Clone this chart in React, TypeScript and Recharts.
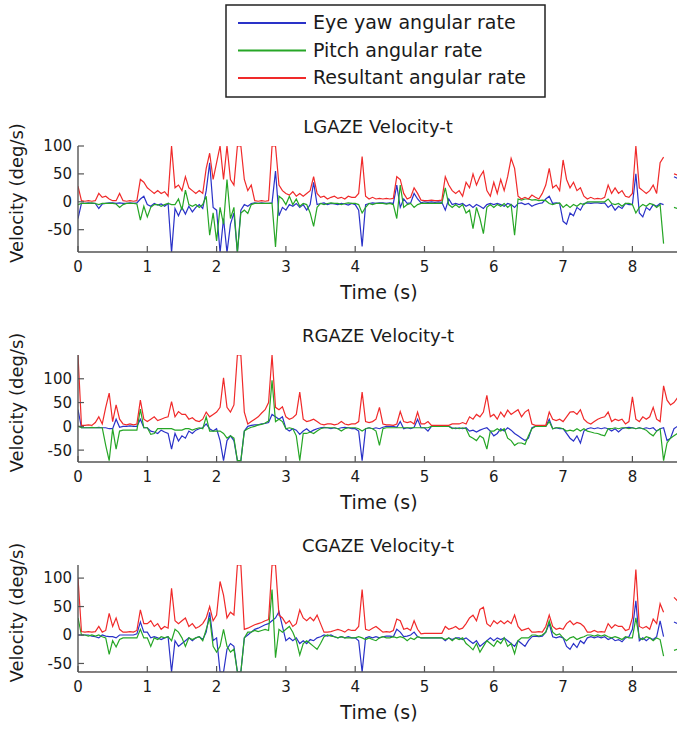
import { LineChart, Line, XAxis, YAxis } from 'recharts'

// sample times (s), 20 Hz
const TIME = [
  0, 0.05, 0.1, 0.15, 0.2, 0.25, 0.3, 0.35, 0.4, 0.45,
  0.5, 0.55, 0.6, 0.65, 0.7, 0.75, 0.8, 0.85, 0.9, 0.95,
  1, 1.05, 1.1, 1.15, 1.2, 1.25, 1.3, 1.35, 1.4, 1.45,
  1.5, 1.55, 1.6, 1.65, 1.7, 1.75, 1.8, 1.85, 1.9, 1.95,
  2, 2.05, 2.1, 2.15, 2.2, 2.25, 2.3, 2.35, 2.4, 2.45,
  2.5, 2.55, 2.6, 2.65, 2.7, 2.75, 2.8, 2.85, 2.9, 2.95,
  3, 3.05, 3.1, 3.15, 3.2, 3.25, 3.3, 3.35, 3.4, 3.45,
  3.5, 3.55, 3.6, 3.65, 3.7, 3.75, 3.8, 3.85, 3.9, 3.95,
  4, 4.05, 4.1, 4.15, 4.2, 4.25, 4.3, 4.35, 4.4, 4.45,
  4.5, 4.55, 4.6, 4.65, 4.7, 4.75, 4.8, 4.85, 4.9, 4.95,
  5, 5.05, 5.1, 5.15, 5.2, 5.25, 5.3, 5.35, 5.4, 5.45,
  5.5, 5.55, 5.6, 5.65, 5.7, 5.75, 5.8, 5.85, 5.9, 5.95,
  6, 6.05, 6.1, 6.15, 6.2, 6.25, 6.3, 6.35, 6.4, 6.45,
  6.5, 6.55, 6.6, 6.65, 6.7, 6.75, 6.8, 6.85, 6.9, 6.95,
  7, 7.05, 7.1, 7.15, 7.2, 7.25, 7.3, 7.35, 7.4, 7.45,
  7.5, 7.55, 7.6, 7.65, 7.7, 7.75, 7.8, 7.85, 7.9, 7.95,
  8, 8.05, 8.1, 8.15, 8.2, 8.25, 8.3, 8.35, 8.4, 8.45,
  8.5, 8.55, 8.6, 8.65,
]

// LGAZE (deg/s)
const L_YAW = [
  -30, -3, -3, -2, -3, -3, -12, -4, -3, -2,
  -2, -3, -2, -3, -3, -2, -3, -2, 5, 10,
  -5, -8, -3, -6, -4, -8, -3, -91, -12, -25,
  -10, -22, -8, -18, -10, -5, -12, 20, 70, -10,
  -15, -91, -30, -91, -40, -20, -91, -15, -5, -8,
  -3, -2, -3, -2, -3, -3, -2, 55, -25, -10,
  -15, -5, -8, -3, -10, -5, -15, -5, 35, -5,
  -3, -2, -5, -3, -4, -5, -3, -4, -6, -3,
  -5, -15, -80, -5, -3, -2, -3, -2, -2, -3,
  -2, -3, 30, -10, 5, -3, -2, 15, 5, -2,
  0, -1, 0, -1, 0, -1, -15, 5, -5, -3,
  -5, -3, -8, -5, -10, -5, -8, -12, -5, -3,
  -5, -3, -5, -8, -3, -5, -10, -3, -2, -5,
  -3, -8, -5, -3, -2, 5, 10, -3, -2, -3,
  -35, -40, -20, -25, -10, -15, -3, -2, -3, -2,
  -2, -3, -2, -10, -5, -15, -8, -12, -3, -5,
  -5, 50, -20, -27, -10, -15, -5, -8, -3, -5,
  null, null, 45, 42,
]
const L_PITCH = [
  -5, -3, -3, -3, -2, -3, -5, -3, -3, -3,
  -3, -4, -10, -5, -3, -3, -3, -4, -33, -8,
  -27, -10, -5, -5, -8, -5, -3, -5, -5, 5,
  -15, 21, -5, -8, -5, -10, -5, 10, -60, -20,
  -70, -10, -40, 40, -30, -10, -91, -20, -15, -21,
  -5, -3, -3, -3, -3, -3, -3, -81, 10, 5,
  -5, 10, -5, 5, -8, -3, -5, -20, -44, -10,
  -3, -5, -3, -2, -3, -3, -5, -3, -2, -3,
  -3, -5, -20, -10, -3, -5, -3, -3, -3, -4,
  -3, -5, -30, 30, -10, -5, -3, -10, -5, -3,
  -3, -3, -3, -3, -3, -3, 25, -5, -10, -5,
  -10, -5, -20, -15, -48, -10, -30, -57, -10, -5,
  -10, -5, -8, -3, -10, -5, -60, 5, 3, 5,
  5, 3, 4, 2, 3, 2, -3, -5, -3, -2,
  -10, -5, -10, -5, -8, -3, -5, 0, 0, 0,
  0, 0, 0, 5, -3, -5, -3, -8, -3, -3,
  -5, -20, -10, -5, -8, -3, -5, -10, -5, -75,
  null, null, -10, -12,
]
const L_RES = [
  28, 2, 1, 2, 1, 2, 15, 8, 10, 5,
  2, 2, 15, 2, 1, 2, 1, 2, 40, 35,
  25, 20, 15, 20, 15, 18, 10, 100, 25, 30,
  20, 45, 25, 20, 15, 20, 15, 60, 87, 40,
  70, 100, 40, 100, 40, 30, 100, 100, 40, 20,
  30, 2, 1, 2, 1, 2, 100, 100, 30, 20,
  15, 12, 18, 10, 15, 10, 15, 20, 45, 15,
  8, 10, 5, 8, 10, 6, 8, 5, 10, 8,
  8, 15, 81, 10, 5, 8, 5, 6, 5, 6,
  5, 6, 45, 40, 15, 5, 8, 25, 15, 3,
  2, 2, 3, 2, 2, 3, 45, 30, 20, 15,
  20, 10, 35, 25, 50, 30, 45, 55, 20, 10,
  35, 15, 40, 20, 45, 78, 60, 10, 5, 8,
  5, 12, 8, 5, 15, 30, 60, 25, 30, 20,
  75, 40, 25, 35, 20, 25, 10, 5, 8, 5,
  6, 5, 8, 30, 15, 25, 15, 20, 10, 8,
  15, 100, 25, 20, 15, 20, 30, 15, 70, 80,
  null, null, 50, 48,
]

// RGAZE (deg/s)
const R_YAW = [
  35, -3, -3, -3, -3, -3, -2, -3, -3, -5,
  -5, 15, -2, 0, 0, 1, 0, 0, 15, -3,
  -3, -10, -12, -15, -8, -12, -15, -48, -15, -31,
  -20, -25, -10, -15, -8, -5, -3, 5, -5, -10,
  -5, -30, -72, -30, -20, -30, -72, -72, -10, 0,
  2, 3, 3, 5, 6, 8, 25, 20, 15, 20,
  -5, -10, -5, -8, -17, -10, -5, -12, -8, -5,
  -3, -2, -3, -5, -3, -5, -3, -2, -3, -5,
  -5, -10, -72, -5, -3, -5, -3, -5, -2, 0,
  0, 0, -2, 10, -5, -3, -5, -2, 15, -3,
  -3, -10, 0, 0, 0, 0, 0, 0, -3, -5,
  -3, -5, -3, -10, -8, -12, -8, -5, -3, -10,
  -20, -15, -5, -10, -3, -8, -15, -20, -25, -30,
  -25, -3, 0, 0, 0, 0, 15, -5, -3, -5,
  -5, -15, -25, -31, -20, -35, -10, -5, -3, -5,
  -3, -5, -3, -5, -10, -5, -12, -5, -3, -2,
  -3, -5, -3, -5, -3, -5, -3, -10, -5, -3,
  -30, -25, -5, 0,
]
const R_PITCH = [
  0, -3, -3, -3, -2, -3, -3, -3, -40, -72,
  -5, -48, -10, -8, -8, -8, -8, -8, 36, -3,
  -3, -17, -15, -5, -5, -5, -5, -5, -8, -8,
  -8, -5, -5, -8, -5, -3, -5, 20, -10, -10,
  -10, -10, -15, -25, -20, -25, -72, -72, -10, -5,
  -2, 0, 3, 4, 7, 11, 97, 10, 15, 10,
  -5, -3, -5, -20, -72, -15, -15, -12, -15, -10,
  -5, -3, -3, -3, -3, -5, -10, -5, -3, -3,
  -3, -5, -10, -5, -3, -5, -10, -40, -5, -3,
  -3, -3, -3, -3, -3, -3, -3, -3, -3, -3,
  -3, -3, 0, 0, 0, 0, 0, 0, -5, -3,
  -5, -3, -5, -21, -25, -30, -20, -25, -48, -10,
  -10, -5, -10, -5, -25, -30, -40, -35, -35, -38,
  -20, -5, 0, 0, 0, 0, 10, -5, -3, -3,
  -5, -10, -8, -10, -5, -10, -5, -10, -12, -14,
  -15, -18, -20, -5, -5, -3, -5, -3, -3, -5,
  -3, -5, -3, -5, -8, -15, -20, -10, -5, -72,
  -35, -25, -20, -15,
]
const R_RES = [
  150, 2, 2, 3, 2, 8, 20, 5, 40, 70,
  10, 45, 15, 5, 3, 5, 3, 5, 55, 15,
  10, 15, 20, 12, 15, 18, 20, 52, 20, 31,
  25, 25, 15, 18, 12, 10, 15, 30, 20, 25,
  30, 40, 102, 40, 30, 45, 150, 150, 30, 5,
  10, 15, 20, 28, 35, 50, 150, 40, 35, 41,
  20, 15, 18, 25, 72, 15, 10, 12, 15, 10,
  5, 3, 5, 5, 3, 5, 10, 5, 3, 5,
  5, 10, 72, 10, 8, 10, 15, 40, 5, 3,
  3, 2, 5, 31, 10, 8, 10, 5, 30, 5,
  5, 10, 2, 2, 2, 2, 2, 2, 5, 5,
  5, 8, 5, 20, 15, 25, 20, 30, 65, 20,
  25, 15, 30, 20, 34, 25, 30, 35, 20, 30,
  35, 5, 2, 2, 2, 2, 30, 15, 12, 15,
  10, 20, 30, 31, 25, 35, 15, 8, 5, 10,
  15, 18, 20, 30, 10, 15, 12, 15, 5, 10,
  62, 15, 10, 20, 15, 20, 40, 15, 10, 85,
  55, 45, 50, 60,
]

// CGAZE (deg/s)
const C_YAW = [
  0, 0, 0, 0, -2, -3, -5, 0, -2, -3,
  -3, -5, 0, 0, 0, 0, 0, 2, 23, 5,
  5, -5, -3, -5, -8, -5, -3, -65, -10, -20,
  -15, -10, -5, -10, -5, -3, -8, 5, 40, -10,
  -5, -65, -65, -25, -15, -20, -65, -65, -5, 0,
  5, 10, 12, 15, 18, 20, 25, 30, 41, 15,
  -10, -5, -10, -5, -15, -10, -15, -8, -10, -5,
  -3, 0, -2, 0, -3, -5, -3, -5, -3, -5,
  -5, -10, -65, -5, -3, -5, -3, -5, -3, -2,
  -2, -3, 10, 5, -3, -2, 0, 5, -3, -5,
  -5, -5, -5, -5, -5, -5, -10, -5, -8, -5,
  -5, -8, -5, -10, -15, -10, -20, -15, -10, -5,
  -10, -5, -8, -5, -10, -15, -20, -10, -15, -20,
  -10, -3, -2, -3, -2, 5, 20, -3, -5, -3,
  -5, -20, -25, -15, -22, -10, -15, -5, -3, -5,
  -3, -5, -3, -8, -5, -10, -8, -12, -5, -3,
  10, 60, -10, -5, -10, -5, -8, -3, 25, -3,
  null, null, 23, 20,
]
const C_PITCH = [
  30, 0, 0, -2, 0, -2, 0, -3, -5, -34,
  -10, -21, -8, -5, -5, -5, -5, -5, 10, -5,
  -5, -20, -5, -8, -3, -5, -3, -10, 10, 5,
  -5, -20, -5, -8, -5, -3, -10, 10, 30, -20,
  -30, -20, 10, -20, -30, -25, -65, -65, -5, 5,
  5, 8, 6, 8, 10, 8, 80, -40, 10, 5,
  10, 15, 5, -10, -35, -15, -10, -15, -20, -25,
  -15, -3, 0, -2, -3, -5, -3, -5, -5, -5,
  -5, -3, -5, -8, -5, -8, -10, -5, -3, -5,
  -5, -3, -5, -3, -5, -10, -5, -8, -3, -5,
  -5, -5, -5, -5, -5, -5, -8, -5, -10, -5,
  -8, -5, -15, -20, -26, -15, -30, -20, -10, -15,
  -20, -10, -15, -5, -20, -15, -33, -10, -5, -5,
  -5, 0, 0, -2, 0, 5, 25, 5, 0, 2,
  -5, -10, -5, -3, -8, -5, -3, 0, 0, -2,
  0, -2, 0, -3, -5, -3, -5, -8, -3, -5,
  -5, 30, -5, -8, -3, -5, -10, -5, -8, -37,
  null, null, -27, -25,
]
const C_RES = [
  100, 6, 5, 6, 5, 6, 15, 5, 8, 38,
  15, 30, 10, 5, 5, 6, 5, 8, 44, 20,
  20, 25, 15, 20, 10, 15, 12, 82, 25, 20,
  25, 30, 15, 20, 12, 15, 20, 30, 50, 25,
  35, 94, 70, 30, 40, 35, 123, 123, 10, 12,
  15, 18, 20, 22, 25, 27, 123, 123, 35, 30,
  20, 25, 15, 20, 44, 30, 25, 31, 25, 35,
  20, 5, 5, 6, 8, 10, 8, 5, 10, 8,
  8, 15, 80, 10, 8, 12, 15, 10, 5, 6,
  5, 8, 28, 25, 10, 12, 8, 25, 10, 2,
  3, 3, 3, 3, 3, 3, 15, 10, 12, 15,
  10, 12, 20, 30, 35, 25, 45, 49, 20, 15,
  25, 20, 25, 20, 25, 20, 35, 15, 8, 10,
  12, 5, 5, 6, 5, 15, 35, 15, 10, 12,
  10, 20, 25, 18, 22, 20, 15, 5, 5, 8,
  5, 6, 5, 20, 12, 18, 15, 15, 8, 10,
  30, 115, 15, 12, 15, 10, 28, 20, 55, 40,
  null, null, 66, 60,
]

// only 0..8 fall inside the visible strip of the 0..10 axis
const X_TICKS = [0, 1, 2, 3, 4, 5, 6, 7, 8]
const Y_TICKS = [-50, 0, 50, 100]

const SERIES = [
  { key: 'yaw', name: 'Eye yaw angular rate', color: '#2a32c8' },
  { key: 'pitch', name: 'Pitch angular rate', color: '#26a626' },
  { key: 'res', name: 'Resultant angular rate', color: '#f02a2a' },
]

const PANELS = [
  { title: 'LGAZE Velocity-t', yaw: L_YAW, pitch: L_PITCH, res: L_RES, domain: [-90, 100], top: 146, height: 106 },
  { title: 'RGAZE Velocity-t', yaw: R_YAW, pitch: R_PITCH, res: R_RES, domain: [-75, 150], top: 355, height: 107 },
  { title: 'CGAZE Velocity-t', yaw: C_YAW, pitch: C_PITCH, res: C_RES, domain: [-65, 123], top: 565, height: 107 },
]

const FONT = '"DejaVu Sans", Verdana, sans-serif'
const AXIS = '#555'
const INK = '#1a1a1a'
const PLOT_LEFT = 78

function BottomTick(props: any) {
  const { x, y, payload } = props
  return (
    <g>
      <line x1={x} x2={x} y1={y} y2={y - 6} stroke={AXIS} strokeWidth={1.2} />
      <text x={x} y={y + 20} textAnchor="middle" fontSize={15} fontFamily={FONT} fill={INK}>
        {payload.value}
      </text>
    </g>
  )
}

function TopTick(props: any) {
  const { x, y } = props
  return <line x1={x} x2={x} y1={y} y2={y + 6} stroke={AXIS} strokeWidth={1.2} />
}

function LeftTick(props: any) {
  const { x, y, payload } = props
  return (
    <g>
      <line x1={x} x2={x + 6} y1={y} y2={y} stroke={AXIS} strokeWidth={1.2} />
      <text x={x - 6} y={y} dy="0.36em" textAnchor="end" fontSize={15} fontFamily={FONT} fill={INK}>
        {payload.value}
      </text>
    </g>
  )
}

function Panel({ cfg }: { cfg: (typeof PANELS)[number] }) {
  const rows = TIME.map((t, i) => ({ t, yaw: cfg.yaw[i], pitch: cfg.pitch[i], res: cfg.res[i] }))
  const axisLine = { stroke: AXIS, strokeWidth: 1.4 }
  return (
    <div style={{ position: 'absolute', left: 0, top: cfg.top - 10 }}>
      <LineChart
        width={780}
        height={cfg.height + 40}
        data={rows}
        margin={{ top: 10, right: 9, bottom: 0, left: 0 }}
      >
        <XAxis
          dataKey="t"
          type="number"
          domain={[0, 10]}
          ticks={X_TICKS}
          interval={0}
          allowDataOverflow
          height={30}
          tickSize={0}
          tickMargin={0}
          tickLine={false}
          axisLine={axisLine}
          tick={(p: any) => <BottomTick {...p} />}
        />
        <XAxis
          xAxisId="top"
          orientation="top"
          dataKey="t"
          type="number"
          domain={[0, 10]}
          ticks={X_TICKS}
          interval={0}
          allowDataOverflow
          height={0}
          tickSize={0}
          tickMargin={0}
          tickLine={false}
          axisLine={axisLine}
          tick={(p: any) => <TopTick {...p} />}
        />
        <YAxis
          type="number"
          domain={cfg.domain}
          ticks={Y_TICKS}
          interval={0}
          allowDataOverflow
          width={PLOT_LEFT}
          tickSize={0}
          tickMargin={0}
          tickLine={false}
          axisLine={axisLine}
          tick={(p: any) => <LeftTick {...p} />}
        />
        {SERIES.map((s) => (
          <Line
            key={s.key}
            type="linear"
            dataKey={s.key}
            name={s.name}
            stroke={s.color}
            strokeWidth={1.2}
            dot={false}
            activeDot={false}
            isAnimationActive={false}
          />
        ))}
      </LineChart>
    </div>
  )
}

export default function App() {
  return (
    <div
      style={{
        position: 'absolute',
        left: 0,
        top: 0,
        width: 677,
        height: 729,
        overflow: 'hidden',
        background: '#fff',
      }}
    >
      {PANELS.map((p) => (
        <Panel key={p.title} cfg={p} />
      ))}
      <svg
        width={677}
        height={729}
        style={{ position: 'absolute', left: 0, top: 0, pointerEvents: 'none' }}
        fontFamily={FONT}
        fill={INK}
      >
        {/* legend */}
        <rect x={226} y={5} width={319} height={92} fill="#fff" stroke="#222" strokeWidth={1.5} />
        {SERIES.map((s, i) => (
          <g key={s.key}>
            <line x1={238} x2={306} y1={23 + i * 27.5} y2={23 + i * 27.5} stroke={s.color} strokeWidth={2} />
            <text x={313} y={29 + i * 27.5} fontSize={19}>
              {s.name}
            </text>
          </g>
        ))}
        {PANELS.map((p) => {
          const mid = p.top + p.height / 2
          return (
            <g key={p.title}>
              <text x={378} y={p.top - 13} textAnchor="middle" fontSize={18}>
                {p.title}
              </text>
              <text x={379} y={p.top + p.height + 47} textAnchor="middle" fontSize={19}>
                Time (s)
              </text>
              <text transform={`translate(23,${mid - 6}) rotate(-90)`} textAnchor="middle" fontSize={18}>
                Velocity (deg/s)
              </text>
            </g>
          )
        })}
      </svg>
    </div>
  )
}
